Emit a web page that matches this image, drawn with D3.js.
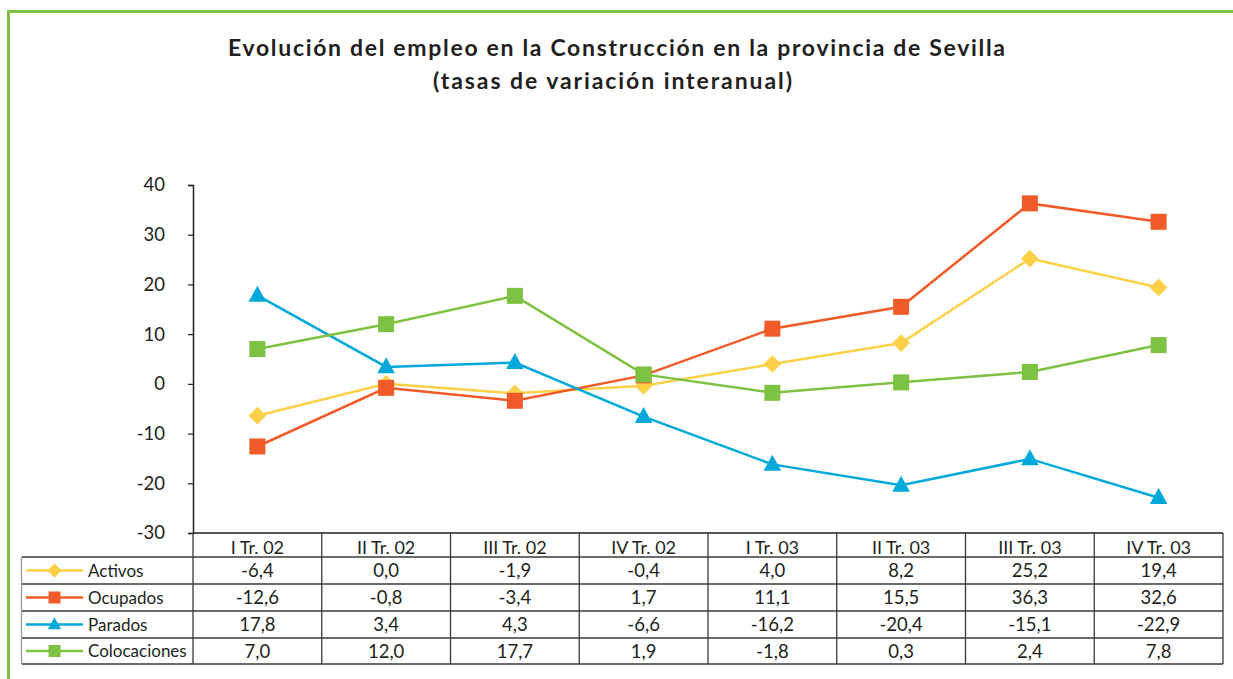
<!DOCTYPE html>
<html>
<head>
<meta charset="utf-8">
<script src="https://cdn.jsdelivr.net/npm/d3@7"></script>
<style>
  body { margin: 0; background: #fff; }
  svg { display: block; font-family: "Lato", "Open Sans", sans-serif; }
</style>
</head>
<body>
<svg id="chart" width="1233" height="679"></svg>
<script>
// datos
const quarters = ['I Tr. 02', 'II Tr. 02', 'III Tr. 02', 'IV Tr. 02', 'I Tr. 03', 'II Tr. 03', 'III Tr. 03', 'IV Tr. 03'];
const seriesNames = ['Activos', 'Ocupados', 'Parados', 'Colocaciones'];
const activos = [-6.4, 0.0, -1.9, -0.4, 4.0, 8.2, 25.2, 19.4];
const ocupados = [-12.6, -0.8, -3.4, 1.7, 11.1, 15.5, 36.3, 32.6];
const parados = [17.8, 3.4, 4.3, -6.6, -16.2, -20.4, -15.1, -22.9];
const colocaciones = [7.0, 12.0, 17.7, 1.9, -1.8, 0.3, 2.4, 7.8];
const yTicks = [-30, -20, -10, 0, 10, 20, 30, 40];

const series = [
  {name: seriesNames[0], values: activos, color: '#fdd048', marker: 'diamond'},
  {name: seriesNames[1], values: ocupados, color: '#f15a29', marker: 'square'},
  {name: seriesNames[2], values: parados, color: '#00a9d9', marker: 'triangle'},
  {name: seriesNames[3], values: colocaciones, color: '#7dc242', marker: 'square'}
];

const svg = d3.select('#chart');

// marco verde
svg.append('path')
  .attr('d', 'M8.5,679 L8.5,11.5 L1233,11.5')
  .attr('fill', 'none')
  .attr('stroke', '#7dc242')
  .attr('stroke-width', 3);

// titulo
const title = svg.append('g')
  .attr('font-weight', 'bold')
  .attr('font-size', 23)
  .attr('fill', '#231f20');
title.append('text').attr('x', 228).attr('y', 56)
  .attr('textLength', 777).attr('lengthAdjust', 'spacing')
  .text('Evolución del empleo en la Construcción en la provincia de Sevilla');
title.append('text').attr('x', 433).attr('y', 89)
  .attr('textLength', 359).attr('lengthAdjust', 'spacing')
  .text('(tasas de variación interanual)');

// escalas
const x = d3.scaleBand().domain(quarters).range([193, 1223]);
const y = d3.scaleLinear().domain([-30, 40]).range([533, 185]);

// eje y
const yAxis = svg.append('g')
  .attr('transform', 'translate(193,0)')
  .call(d3.axisLeft(y).tickValues(yTicks).tickSize(5).tickPadding(23).tickFormat(d => String(d)));
yAxis.select('.domain').attr('stroke', '#231f20').attr('stroke-width', 1.5);
yAxis.selectAll('.tick line').attr('stroke', '#231f20').attr('stroke-width', 1.2);
yAxis.selectAll('.tick text')
  .attr('font-size', 18.5)
  .attr('fill', '#231f20')
  .attr('font-family', '"Lato", sans-serif');

// tabla
const rowTop = [533, 557, 584, 611, 638];
const rowBottom = 664;
const tableG = svg.append('g');
const lineColor = '#3a3a3a';

// linea base / techo de cabecera
tableG.append('line')
  .attr('x1', 193).attr('x2', 1223).attr('y1', 533).attr('y2', 533)
  .attr('stroke', '#231f20').attr('stroke-width', 1.5);
rowTop.slice(1).concat([rowBottom]).forEach(ry => {
  tableG.append('line')
    .attr('x1', 22).attr('x2', 1223).attr('y1', ry).attr('y2', ry)
    .attr('stroke', lineColor).attr('stroke-width', 1.3);
});
// verticales
quarters.forEach(q => {
  tableG.append('line')
    .attr('x1', x(q)).attr('x2', x(q)).attr('y1', 533).attr('y2', rowBottom)
    .attr('stroke', lineColor).attr('stroke-width', 1.3);
});
tableG.append('line')
  .attr('x1', 1223).attr('x2', 1223).attr('y1', 533).attr('y2', rowBottom)
  .attr('stroke', lineColor).attr('stroke-width', 1.3);
tableG.append('line')
  .attr('x1', 21.5).attr('x2', 21.5).attr('y1', 557).attr('y2', rowBottom)
  .attr('stroke', '#999').attr('stroke-width', 1.3);

// cabecera
tableG.selectAll('.head').data(quarters).join('text')
  .attr('x', d => x(d) + x.bandwidth() / 2)
  .attr('y', 554)
  .attr('text-anchor', 'middle')
  .attr('font-size', 18)
  .attr('fill', '#231f20')
  .text(d => d);

const fmt = v => v.toFixed(1).replace('.', ',');

// marcadores
function drawMarker(g, type, cx, cy, color, s) {
  if (type === 'diamond') {
    g.append('path')
      .attr('d', `M${cx},${cy - s * 0.55} L${cx + s * 0.55},${cy} L${cx},${cy + s * 0.55} L${cx - s * 0.55},${cy} Z`)
      .attr('fill', color);
  } else if (type === 'square') {
    g.append('rect')
      .attr('x', cx - s / 2).attr('y', cy - s / 2)
      .attr('width', s).attr('height', s)
      .attr('fill', color);
  } else {
    g.append('path')
      .attr('d', `M${cx},${cy - s * 0.6} L${cx + s * 0.55},${cy + s * 0.4} L${cx - s * 0.55},${cy + s * 0.4} Z`)
      .attr('fill', color);
  }
}

// filas de la tabla + leyenda
series.forEach((s, i) => {
  const top = rowTop[i + 1];
  const bot = i < 3 ? rowTop[i + 2] : rowBottom;
  const mid = (top + bot) / 2;
  const lg = tableG.append('g');
  lg.append('line')
    .attr('x1', 26).attr('x2', 83).attr('y1', mid).attr('y2', mid)
    .attr('stroke', s.color).attr('stroke-width', 2.5);
  drawMarker(lg, s.marker, 54.5, mid, s.color, s.marker === 'diamond' ? 13 : 12);
  lg.append('text')
    .attr('x', 88).attr('y', mid + 6)
    .attr('font-size', 17)
    .attr('fill', '#231f20')
    .text(s.name);
  tableG.selectAll('.v' + i).data(s.values).join('text')
    .attr('x', (d, j) => x(quarters[j]) + x.bandwidth() / 2)
    .attr('y', mid + 6.5)
    .attr('text-anchor', 'middle')
    .attr('font-size', 18.5)
    .attr('fill', '#231f20')
    .text(d => fmt(d));
});

// lineas
const line = d3.line()
  .x((d, j) => x(quarters[j]) + x.bandwidth() / 2)
  .y(d => y(d));

series.forEach(s => {
  const g = svg.append('g');
  g.append('path')
    .datum(s.values)
    .attr('d', line)
    .attr('fill', 'none')
    .attr('stroke', s.color)
    .attr('stroke-width', 2.5);
  s.values.forEach((v, j) => {
    drawMarker(g, s.marker, x(quarters[j]) + x.bandwidth() / 2, y(v), s.color, 16);
  });
});
</script>
</body>
</html>
